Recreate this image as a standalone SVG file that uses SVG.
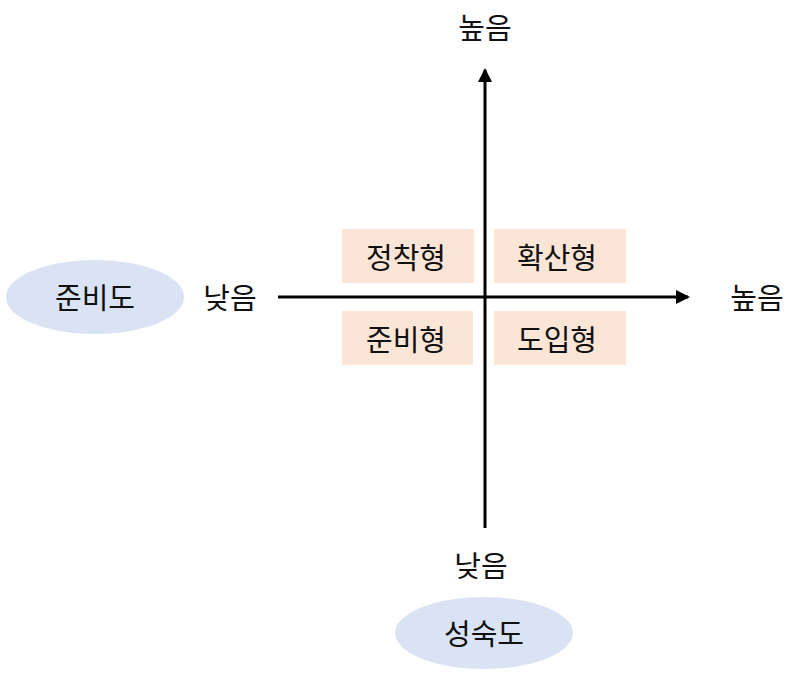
<svg xmlns="http://www.w3.org/2000/svg" width="800" height="675" viewBox="0 0 800 675">
<style>
text{font-family:"Noto Sans CJK KR","Noto Sans",sans-serif;font-size:29px;fill:#111;text-anchor:middle;dominant-baseline:central}
.box{fill:#fbe5d6}
.ell{fill:#dae3f3}
.axis{stroke:#000;stroke-width:3;fill:none}
</style>
<defs>
<marker id="arr" markerWidth="14" markerHeight="14" refX="12" refY="7" orient="auto" markerUnits="userSpaceOnUse" viewBox="0 0 14 14">
<path d="M0,0 L14,7 L0,14 z" fill="#000"/>
</marker>
</defs>
<rect width="800" height="675" fill="#fff"/>
<g id="connectors">
<line class="axis" x1="485" y1="528" x2="485" y2="70" marker-end="url(#arr)"/>
<line class="axis" x1="278" y1="297" x2="688" y2="297" marker-end="url(#arr)"/>
</g>
<g id="q1"><rect class="box" x="342" y="229" width="132" height="54"/><text x="406" y="256">정착형</text></g>
<g id="q2"><rect class="box" x="494" y="229" width="132" height="54"/><text x="557" y="256">확산형</text></g>
<g id="q3"><rect class="box" x="342" y="311" width="131" height="54"/><text x="406" y="338">준비형</text></g>
<g id="q4"><rect class="box" x="494" y="311" width="132" height="54"/><text x="557" y="338">도입형</text></g>
<g id="readiness"><ellipse class="ell" cx="95" cy="297" rx="89" ry="37"/><text x="95" y="296">준비도</text></g>
<g id="maturity"><ellipse class="ell" cx="484" cy="633" rx="89" ry="36"/><text x="484" y="632">성숙도</text></g>
<g id="label-x-low"><text x="230" y="296">낮음</text></g>
<g id="label-x-high"><text x="757" y="296">높음</text></g>
<g id="label-y-high"><text x="485" y="26">높음</text></g>
<g id="label-y-low"><text x="481" y="564">낮음</text></g>
</svg>
